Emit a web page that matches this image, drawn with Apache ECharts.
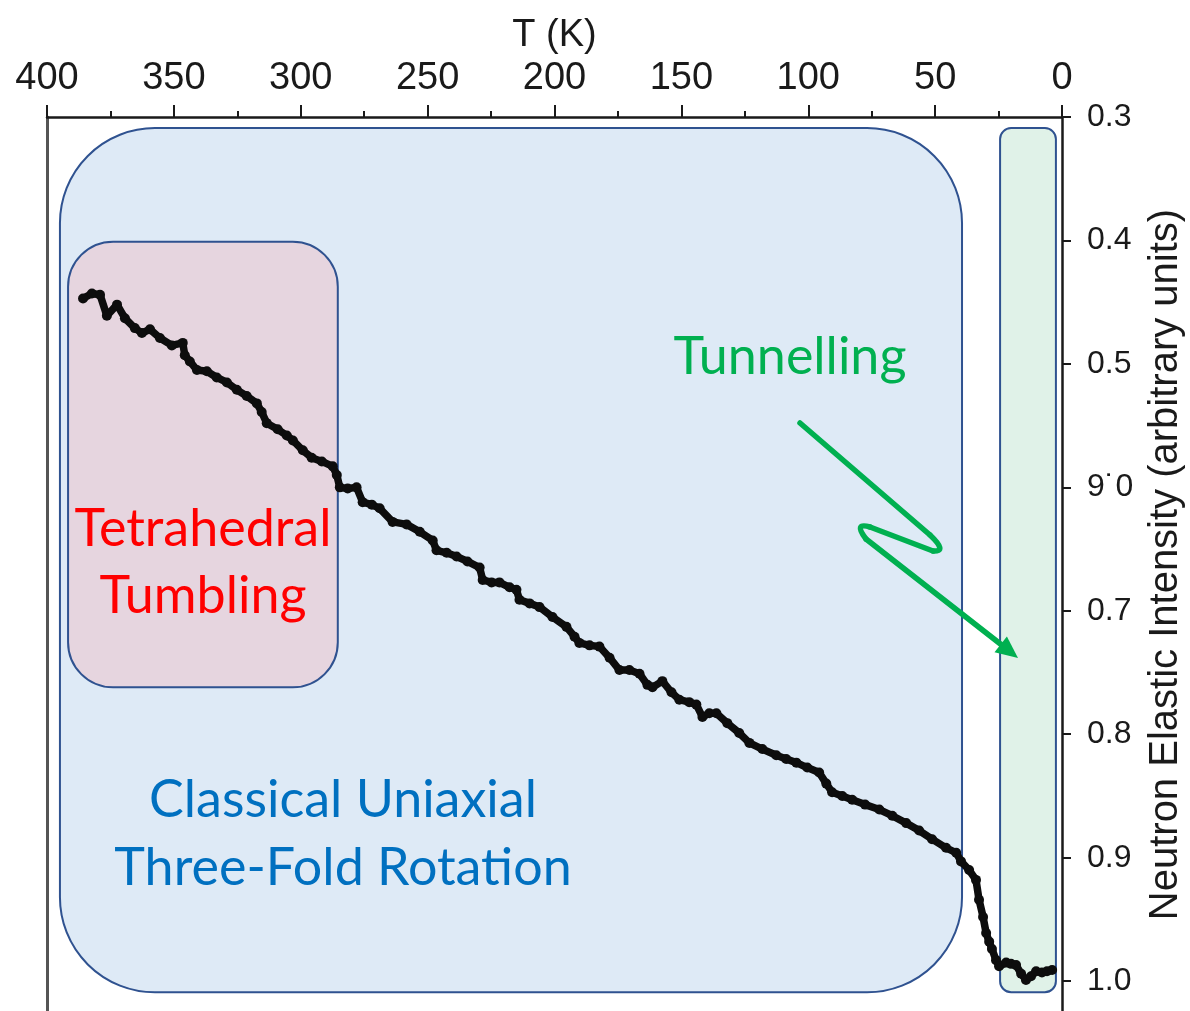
<!DOCTYPE html>
<html>
<head>
<meta charset="utf-8">
<script src="https://cdn.jsdelivr.net/npm/echarts@6/dist/echarts.min.js"></script>
<style>
  html, body { margin: 0; padding: 0; background: #fff; }
  #chart { width: 1190px; height: 1011px; }
</style>
</head>
<body>
<div id="chart"></div>
<script>
// 溫度 T (K) 與中子彈性強度
const tempK = [
  385.8, 382.3, 379.1, 376.4, 372.4, 369.3, 365.4, 362.6, 359.4, 355.5,
  350.8, 346.5, 345.7, 343.7, 340.9, 337.0, 333.1, 329.1, 325.2, 321.3,
  317.3, 315.4, 313.4, 309.1, 305.5, 303.1, 299.2, 295.7, 291.7, 287.4,
  285.8, 284.6, 281.5, 278.0, 275.6, 272.0, 268.9, 263.8, 258.3, 253.1,
  248.0, 246.5, 242.5, 238.6, 234.3, 229.5, 228.3, 224.8, 221.7, 217.7,
  215.0, 213.8, 209.8, 205.9, 200.8, 195.3, 192.1, 190.2, 186.2, 182.3,
  178.3, 174.4, 170.5, 166.5, 163.4, 161.4, 157.5, 153.9, 150.8, 146.9,
  144.1, 141.7, 139.0, 136.2, 131.9, 127.2, 123.2, 118.1, 112.6, 108.7,
  104.7, 100.4, 95.7, 92.9, 90.6, 86.6, 82.7, 77.6, 72.0, 66.9,
  61.4, 56.3, 51.2, 45.7, 41.7, 39.8, 36.6, 33.9, 32.7, 31.1,
  29.9, 28.7, 27.6, 26.0, 24.8, 22.0, 20.1, 18.1, 16.1, 14.2,
  12.2, 10.2, 7.9, 5.9, 3.9
]
const intensity = [
  0.447, 0.443, 0.444, 0.461, 0.452, 0.463, 0.471, 0.475, 0.472, 0.479,
  0.485, 0.483, 0.493, 0.498, 0.505, 0.506, 0.511, 0.515, 0.521, 0.526,
  0.532, 0.539, 0.548, 0.553, 0.558, 0.562, 0.570, 0.576, 0.579, 0.583,
  0.590, 0.600, 0.601, 0.600, 0.612, 0.614, 0.617, 0.628, 0.630, 0.636,
  0.643, 0.651, 0.653, 0.656, 0.660, 0.665, 0.675, 0.677, 0.677, 0.681,
  0.683, 0.691, 0.694, 0.697, 0.705, 0.713, 0.721, 0.726, 0.728, 0.729,
  0.738, 0.748, 0.748, 0.751, 0.760, 0.762, 0.757, 0.766, 0.772, 0.774,
  0.776, 0.786, 0.783, 0.783, 0.791, 0.799, 0.807, 0.812, 0.817, 0.820,
  0.823, 0.827, 0.831, 0.840, 0.847, 0.850, 0.853, 0.857, 0.861, 0.866,
  0.872, 0.878, 0.885, 0.892, 0.896, 0.903, 0.910, 0.918, 0.934, 0.948,
  0.961, 0.968, 0.974, 0.983, 0.988, 0.985, 0.986, 0.987, 0.994, 0.999,
  0.996, 0.992, 0.993, 0.992, 0.991
]

// 三個區域（T 起、T 迄、強度上、強度下）
const regionNames = ['Classical', 'Tetrahedral', 'Tunnelling']
const regionTFrom = [394.9, 391.7, 24.4]
const regionTTo = [39.4, 285.4, 2.4]
const regionTop = [0.309, 0.401, 0.309]
const regionBottom = [1.009, 0.762, 1.009]

const xTicks = [0, 50, 100, 150, 200, 250, 300, 350, 400]
const yTicks = ['0.3', '0.4', '0.5', '9˙0', '0.7', '0.8', '0.9', '1.0']

// 樣式
const regionFill = ['#deeaf6', '#e6d5df', '#e0f2e8']
const regionRadius = [95, 45, 11]
const regionStroke = '#2f5290'
const arrowColor = '#00b050'

const chart = echarts.init(document.getElementById('chart'))

const lineData = tempK.map((t, i) => [t, intensity[i]])
const regionData = regionNames.map((n, i) => [regionTFrom[i], regionTTo[i], regionTop[i], regionBottom[i]])

const arrowStroke = { stroke: arrowColor, lineWidth: 5.5, lineCap: 'round', fill: null }
const labelText = (text, x, y, color, lh) => ({
  type: 'text',
  x: x,
  y: y,
  z: 10,
  style: {
    text: text,
    fill: color,
    font: '52px Lato',
    lineHeight: lh,
    align: 'center',
    verticalAlign: 'middle',
    textAlign: 'center',
    textVerticalAlign: 'middle',
  },
})

const option = {
  animation: false,
  grid: { left: 47, right: 128, top: 117, height: 895, outerBoundsMode: 'none', containLabel: false },
  xAxis: {
    type: 'value',
    position: 'top',
    inverse: true,
    min: xTicks[0],
    max: xTicks[xTicks.length - 1],
    interval: 50,
    name: 'T (K)',
    nameLocation: 'middle',
    nameGap: 62,
    nameTextStyle: { fontSize: 38, color: '#1a1a1a', fontFamily: 'Liberation Sans' },
    axisLine: { show: true, lineStyle: { color: '#1a1a1a', width: 2.5 } },
    axisTick: { show: true, length: 12, lineStyle: { color: '#1a1a1a', width: 2 } },
    minorTick: { show: true, splitNumber: 2, length: 6, lineStyle: { color: '#1a1a1a', width: 2 } },
    axisLabel: { fontSize: 38, color: '#1a1a1a', fontFamily: 'Liberation Sans', margin: 19 },
    splitLine: { show: false },
  },
  yAxis: [
    {
      type: 'value',
      position: 'right',
      inverse: true,
      min: 0.3,
      max: 1.025,
      interval: 0.1,
      name: 'Neutron Elastic Intensity (arbitrary units)',
      nameLocation: 'middle',
      nameRotate: 90,
      nameGap: 84,
      nameTextStyle: { fontSize: 40, color: '#1a1a1a', fontFamily: 'Liberation Sans' },
      axisLine: { show: true, lineStyle: { color: '#1a1a1a', width: 2.5 } },
      axisTick: { show: true, length: 9, lineStyle: { color: '#1a1a1a', width: 2 } },
      axisLabel: {
        fontSize: 32,
        color: '#1a1a1a',
        fontFamily: 'Liberation Sans',
        margin: 25,
        formatter: (v) => {
          const k = Math.round((v - 0.3) * 10)
          return yTicks[k] || ''
        },
      },
      splitLine: { show: false },
    },
    {
      type: 'value',
      position: 'left',
      inverse: true,
      min: 0.3,
      max: 1.025,
      axisLine: { show: true, lineStyle: { color: '#555', width: 3 } },
      axisTick: { show: false },
      axisLabel: { show: false },
      splitLine: { show: false },
    },
  ],
  series: [
    {
      name: 'regions',
      type: 'custom',
      z: 1,
      silent: true,
      data: regionData,
      encode: { x: [0, 1], y: [2, 3] },
      renderItem: (params, api) => {
        const a = api.coord([api.value(0), api.value(2)])
        const b = api.coord([api.value(1), api.value(3)])
        const i = params.dataIndex
        return {
          type: 'rect',
          shape: {
            x: Math.min(a[0], b[0]),
            y: Math.min(a[1], b[1]),
            width: Math.abs(b[0] - a[0]),
            height: Math.abs(b[1] - a[1]),
            r: regionRadius[i],
          },
          style: { fill: regionFill[i], stroke: regionStroke, lineWidth: 2 },
        }
      },
    },
    {
      name: 'intensity',
      type: 'line',
      z: 5,
      data: lineData,
      symbol: 'circle',
      symbolSize: 10,
      showSymbol: true,
      itemStyle: { color: '#0d0d0d' },
      lineStyle: { color: '#0d0d0d', width: 7.5, join: 'round' },
    },
  ],
  graphic: [
    labelText('Tetrahedral\nTumbling', 203, 563, '#ff0000', 67),
    labelText('Tunnelling', 790, 357, '#00b050', 60),
    labelText('Classical Uniaxial\nThree-Fold Rotation', 343, 834, '#0070c0', 68),
    // 綠色折線箭頭
    { type: 'line', z: 10, shape: { x1: 800, y1: 423, x2: 930, y2: 535 }, style: arrowStroke },
    { type: 'bezierCurve', z: 10, shape: { x1: 930, y1: 535, cpx1: 948, cpy1: 552, x2: 933, y2: 551 }, style: arrowStroke },
    { type: 'line', z: 10, shape: { x1: 933, y1: 551, x2: 870, y2: 527 }, style: arrowStroke },
    { type: 'bezierCurve', z: 10, shape: { x1: 870, y1: 527, cpx1: 853, cpy1: 522, x2: 866, y2: 539 }, style: arrowStroke },
    { type: 'line', z: 10, shape: { x1: 866, y1: 539, x2: 1003, y2: 646 }, style: arrowStroke },
    {
      type: 'polygon',
      z: 10,
      shape: { points: [[1018, 658], [994.5, 652.3], [1006.9, 636.5]] },
      style: { fill: arrowColor },
    },
  ],
}

chart.setOption(option)
</script>
</body>
</html>
